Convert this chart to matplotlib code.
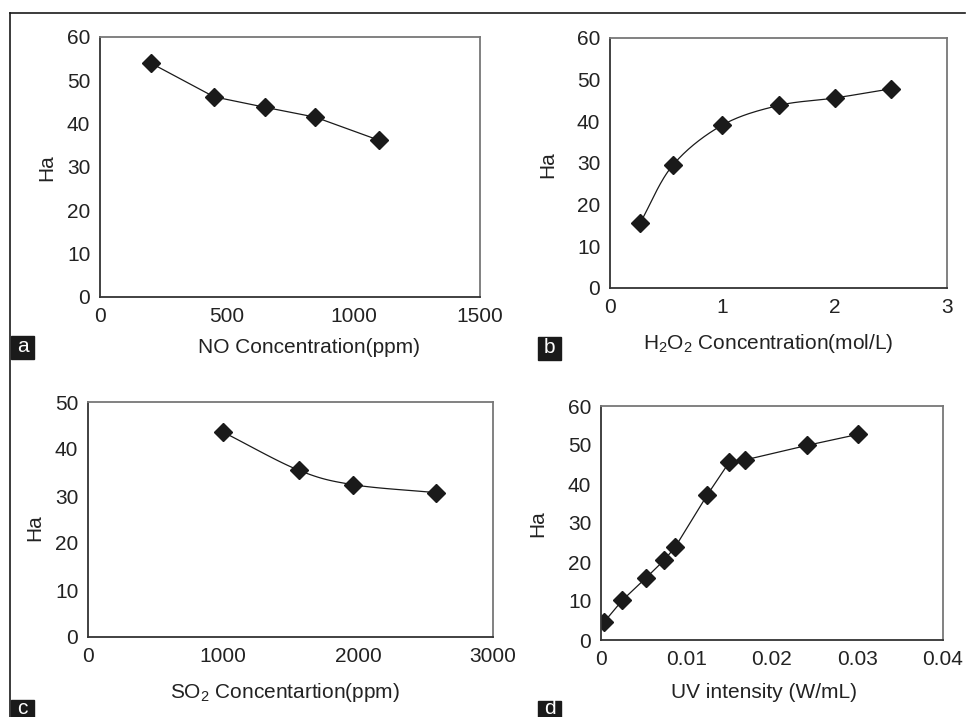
import numpy as np
import matplotlib.pyplot as plt
from matplotlib.patches import Rectangle
from matplotlib.lines import Line2D

plt.rcParams['font.family'] = ['Liberation Sans', 'DejaVu Sans']
plt.rcParams['mathtext.default'] = 'regular'

# panel a: NO concentration
no_conc = [200, 450, 650, 850, 1100]
no_ha = [54.0, 46.2, 43.8, 41.5, 36.2]

# panel b: H2O2 concentration
h2o2_conc = [0.27, 0.56, 1.0, 1.5, 2.0, 2.5]
h2o2_ha = [15.7, 29.5, 39.1, 43.8, 45.6, 47.8]

# panel c: SO2 concentration
so2_conc = [1000, 1560, 1965, 2580]
so2_ha = [43.6, 35.5, 32.4, 30.7]

# panel d: UV intensity
uv = [0.0004, 0.0025, 0.0053, 0.0074, 0.0087, 0.0124, 0.0150, 0.0169, 0.0241, 0.0300]
uv_ha = [4.7, 10.2, 16.0, 20.5, 23.9, 37.1, 45.6, 46.2, 49.9, 52.7]

W, H = 966, 717
FS = 15


def px_rect(l, t, r, b):
    return [l / W, 1 - b / H, (r - l) / W, (b - t) / H]


def smooth(x, y, n=30):
    # catmull-rom style smoothing, like the spreadsheet "smoothed line"
    x = np.asarray(x, float)
    y = np.asarray(y, float)
    px = np.r_[2 * x[0] - x[1], x, 2 * x[-1] - x[-2]]
    py = np.r_[2 * y[0] - y[1], y, 2 * y[-1] - y[-2]]
    xs, ys = [], []
    t = np.linspace(0, 1, n)
    for i in range(1, len(px) - 2):
        for p, out in ((px, xs), (py, ys)):
            p0, p1, p2, p3 = p[i - 1], p[i], p[i + 1], p[i + 2]
            c1 = p1 + (p2 - p0) / 6
            c2 = p2 - (p3 - p1) / 6
            out.extend((1 - t) ** 3 * p1 + 3 * (1 - t) ** 2 * t * c1
                       + 3 * (1 - t) * t ** 2 * c2 + t ** 3 * p2)
    return xs, ys


def style(ax, xlim, xticks, ylim, yticks, xfmt=None):
    ax.set_xlim(*xlim)
    ax.set_ylim(*ylim)
    ax.set_xticks(xticks)
    ax.set_yticks(yticks)
    if xfmt:
        ax.set_xticklabels([xfmt(v) for v in xticks])
    ax.tick_params(length=0, labelsize=FS, colors='#222222', pad=7)
    for side in ['top', 'right']:
        ax.spines[side].set_color('#777777')
        ax.spines[side].set_linewidth(1.3)
    for side in ['left', 'bottom']:
        ax.spines[side].set_color('#333333')
        ax.spines[side].set_linewidth(1.3)


fig = plt.figure(figsize=(W / 100, H / 100), dpi=100)

mk = dict(marker='D', ms=9, color='#1a1a1a', mfc='#1a1a1a', lw=0.9)

ax_a = fig.add_axes(px_rect(100, 37, 480, 297))
ax_a.plot(no_conc, no_ha, **mk)
style(ax_a, (0, 1500), [0, 500, 1000, 1500], (0, 60), range(0, 61, 10))

ax_b = fig.add_axes(px_rect(610, 38, 947, 288))
sx, sy = smooth(h2o2_conc, h2o2_ha)
ax_b.plot(sx, sy, color='#1a1a1a', lw=0.9)
ax_b.plot(h2o2_conc, h2o2_ha, ls='none', **mk)
style(ax_b, (0, 3), [0, 1, 2, 3], (0, 60), range(0, 61, 10))

ax_c = fig.add_axes(px_rect(88, 402, 493, 637))
sx, sy = smooth(so2_conc, so2_ha)
ax_c.plot(sx, sy, color='#1a1a1a', lw=0.9)
ax_c.plot(so2_conc, so2_ha, ls='none', **mk)
style(ax_c, (0, 3000), [0, 1000, 2000, 3000], (0, 50), range(0, 51, 10))

ax_d = fig.add_axes(px_rect(601, 406, 943, 640))
ax_d.plot(uv, uv_ha, **mk)
style(ax_d, (0, 0.04), [0, 0.01, 0.02, 0.03, 0.04], (0, 60), range(0, 61, 10),
      xfmt=lambda v: '0' if v == 0 else f'{v:g}')

# axis titles
labels = [
    (309, 348, 'NO Concentration(ppm)', 47, 168),
    (768, 343, 'H$_2$O$_2$ Concentration(mol/L)', 548, 165),
    (285, 692, 'SO$_2$ Concentartion(ppm)', 35, 528),
    (764, 692, 'UV intensity (W/mL)', 538, 524),
]
for xx, xy, txt, yx, yy in labels:
    fig.text(xx / W, 1 - xy / H, txt, ha='center', va='center', fontsize=FS, color='#222222')
    fig.text(yx / W, 1 - yy / H, 'Ha', ha='center', va='center', fontsize=FS,
             rotation=90, color='#222222')

# panel letters (c and d sit at the bottom edge, partly cut as in the source)
for l, t, letter, ty in [(11, 336, 'a', 347), (538, 337, 'b', 348),
                         (11, 700, 'c', 709), (538, 701, 'd', 709)]:
    fig.patches.append(Rectangle((l / W, 1 - (t + 23) / H), 23 / W, 23 / H,
                                 transform=fig.transFigure, color='#1a1a1a'))
    fig.text((l + 11.5) / W, 1 - ty / H, letter, ha='center', va='center',
             fontsize=FS, color='white')

# outer frame (top and left)
fig.add_artist(Line2D([10 / W, 965 / W], [1 - 13 / H, 1 - 13 / H], color='#1a1a1a', lw=1.2))
fig.add_artist(Line2D([10 / W, 10 / W], [1 - 13 / H, 0], color='#1a1a1a', lw=1.2))

fig.savefig('out.png', dpi=100)
